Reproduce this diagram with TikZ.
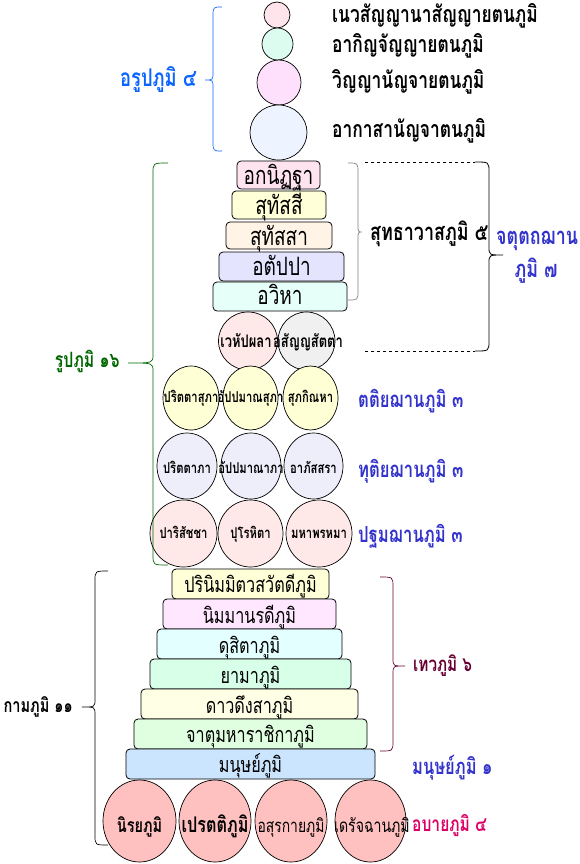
\documentclass[tikz,border=0pt]{standalone}
\usepackage{fontspec}
\usetikzlibrary{shapes.geometric}
\newfontfamily\thf[Script=Thai,FakeStretch=0.75]{Loma}
\definecolor{cblue}{HTML}{0A64FF}
\definecolor{cgreen}{HTML}{006600}
\definecolor{cviolet}{HTML}{3333CC}
\definecolor{cmaroon}{HTML}{660033}
\definecolor{ccrimson}{HTML}{DD0066}
\definecolor{fa1}{HTML}{FFE4EC}
\definecolor{fa2}{HTML}{DCFCF0}
\definecolor{fa3}{HTML}{FFE0FC}
\definecolor{fa4}{HTML}{EEF4FF}
\definecolor{fr1}{HTML}{FFE4F0}
\definecolor{fr2}{HTML}{FFFFD8}
\definecolor{fr3}{HTML}{FFF4E6}
\definecolor{fr4}{HTML}{E4E4FF}
\definecolor{fr5}{HTML}{E6FFF8}
\definecolor{fv1}{HTML}{FFE8E8}
\definecolor{fv2}{HTML}{F0F0F0}
\definecolor{fyel}{HTML}{FFFFD6}
\definecolor{flav}{HTML}{EEEEFA}
\definecolor{fpink}{HTML}{FFE8E8}
\definecolor{fhell}{HTML}{FFC0C0}
\newcommand\mybrace[7]{\draw[#1] (#2,#5) .. controls (#3,#5) .. (#3,#5+10) -- (#3,#6-8) .. controls (#3,#6) .. (#4,#6) .. controls (#3,#6) .. (#3,#6+8) -- (#3,#7-10) .. controls (#3,#7) .. (#2,#7);}
\tikzset{
  bt/.style={font=\thf\bfseries\fontsize{#1}{#1}\selectfont, inner sep=0pt},
  rt/.style={font=\thf\fontsize{#1}{#1}\selectfont, inner sep=0pt},
  rbox/.style={draw=black, line width=0.8pt, rounded corners=4pt, inner sep=0pt},
  ell/.style={draw=black, line width=0.7pt, ellipse, inner sep=0pt},
}
\begin{document}
\begin{tikzpicture}[x=1pt,y=-1pt]
\useasboundingbox (0,0) rectangle (579,864);
% ---------- Arupa ----------
\node[ell, fill=fa1, minimum width=26pt, minimum height=26pt] (a1) at (277,15) {};
\node[ell, fill=fa2, minimum width=31pt, minimum height=32pt] (a2) at (277.5,44) {};
\node[ell, fill=fa3, minimum width=44pt, minimum height=45pt] (a3) at (279,82.5) {};
\node[ell, fill=fa4, minimum width=57pt, minimum height=55pt] (a4) at (278.5,132.5) {};
\node[bt=23.2, anchor=base west] (a1t) at (332,23) {เนวสัญญานาสัญญายตนภูมิ};
\node[bt=23.2, anchor=base west] (a2t) at (332,53) {อากิญจัญญายตนภูมิ};
\node[bt=23.2, anchor=base west] (a3t) at (332,89) {วิญญานัญจายตนภูมิ};
\node[bt=23.2, anchor=base west] (a4t) at (332,137) {อากาสานัญจาตนภูมิ};
\mybrace{cblue, line width=0.7pt}{222}{213}{205}{7}{80}{151}
\node[bt=24.4, anchor=base east, text=cblue] (arupa) at (197,87) {อรูปภูมิ ๔};
% ---------- Suddhavasa ----------
\node[rbox, fill=fr1, minimum width=83pt, minimum height=28pt] (r1) at (278.5,175) {};
\node[rbox, fill=fr2, minimum width=94pt, minimum height=28pt] (r2) at (279,205) {};
\node[rbox, fill=fr3, minimum width=106pt, minimum height=27pt] (r3) at (279,235.5) {};
\node[rbox, fill=fr4, minimum width=125pt, minimum height=29pt] (r4) at (281.5,266.5) {};
\node[rbox, fill=fr5, minimum width=134pt, minimum height=29pt] (r5) at (280,296.5) {};
\node[rt=25.3, anchor=base] (r1t) at (278.5,184) {อกนิฏฐา};
\node[rt=25.3, anchor=base] (r2t) at (279,214) {สุทัสสี};
\node[rt=25.3, anchor=base] (r3t) at (279,245) {สุทัสสา};
\node[rt=25.3, anchor=base] (r4t) at (281.5,275) {อตัปปา};
\node[rt=25.3, anchor=base] (r5t) at (280,304) {อวิหา};
\node[ell, fill=fv1, minimum width=59pt, minimum height=58pt] (v1) at (248,341) {};
\node[ell, fill=fv2, minimum width=57pt, minimum height=58pt] (v2) at (306.5,341) {};
\node[bt=17.3, anchor=base] (v1t) at (246,347) {เวหัปผลา};
\node[bt=17.3, anchor=base] (v2t) at (308,347) {อสัญญสัตตา};
\mybrace{gray, line width=0.7pt}{348}{358}{362}{163}{232}{300}
\node[bt=23.9, anchor=base west] (sud) at (370,240) {สุทธาวาสภูมิ ๕};
\mybrace{black, line width=0.8pt}{475}{489}{503}{162}{255}{351}
\coordinate (dt) at (365,162);
\coordinate (dte) at (475,162);
\coordinate (db) at (365,351);
\coordinate (dbe) at (475,351);
\draw[dashed, line width=0.7pt] (dt) -- (dte);
\draw[dashed, line width=0.7pt] (db) -- (dbe);
\node[bt=23.8, anchor=base west, text=cviolet] (j1) at (496,244) {จตุตถฌาน};
\node[bt=23.8, anchor=base, text=cviolet] (j2) at (536,277) {ภูมิ ๗};
% ---------- Rupa rows ----------
\foreach \n/\x/\w/\t in {y1/191/56/ปริตตาสุภา, y2/250.5/55/อัปปมาณสุภา, y3/310.5/55/สุภกิณหา}{
  \node[ell, fill=fyel, minimum width=\w pt, minimum height=64pt] (\n) at (\x,398) {};
  \node[bt=15, anchor=base] (\n t) at (\x,402) {\t};
}
\foreach \n/\x/\w/\t in {l1/187/60/ปริตตาภา, l2/251/60/อัปปมาณาภา, l3/313.5/59/อาภัสสรา}{
  \node[ell, fill=flav, minimum width=\w pt, minimum height=66pt] (\n) at (\x,466) {};
  \node[bt=15, anchor=base] (\n t) at (\x,473) {\t};
}
\foreach \n/\x/\w/\t in {p1/183.5/67/ปาริสัชชา, p2/250.5/65/ปุโรหิตา, p3/319/66/มหาพรหมา}{
  \node[ell, fill=fpink, minimum width=\w pt, minimum height=67pt] (\n) at (\x,533.5) {};
  \node[bt=15, anchor=base] (\n t) at (\x,538) {\t};
}
\node[bt=22.2, anchor=base west, text=cviolet] (tt) at (358,407) {ตติยฌานภูมิ ๓};
\node[bt=22.2, anchor=base west, text=cviolet] (du) at (358,477) {ทุติยฌานภูมิ ๓};
\node[bt=22.2, anchor=base west, text=cviolet] (pa) at (358,542) {ปฐมฌานภูมิ ๓};
\mybrace{cgreen, line width=0.7pt}{168}{153}{128}{163}{363}{565}
\node[bt=21.1, anchor=base east, text=cgreen] (rupa) at (120,367) {รูปภูมิ ๑๖};
% ---------- Kama ----------
\foreach \n/\x/\y/\w/\c/\b/\t in {
  k1/250.5/584/157/FFFFD8/592/ปรินิมมิตวสวัตดีภูมิ,
  k2/249.5/614/173/FFE8FF/623/นิมมานรดีภูมิ,
  k3/249.5/644/185/E4FFFF/653/ดุสิตาภูมิ,
  k4/250.5/674/201/D8FFE8/683/ยามาภูมิ,
  k5/249.5/704/217/FFFFE6/713/ดาวดึงสาภูมิ,
  k6/250.5/734/233/E0FFE0/742/จาตุมหาราชิกาภูมิ,
  k7/250.5/764/249/CCE5FF/772/มนุษย์ภูมิ}{
  \definecolor{tmpc}{HTML}{\c}
  \node[rbox, fill=tmpc, minimum width=\w pt, minimum height=30pt] (\n) at (\x,\y) {};
  \node[rt=21.6, anchor=base] (\n t) at (\x,\b) {\t};
}
\foreach \n/\x/\w in {h1/139.5/73, h2/215/72, h3/291/72, h4/370.5/71}{
  \node[ell, fill=fhell, minimum width=\w pt, minimum height=82pt] (\n) at (\x,821) {};
}
\node[bt=19.3, anchor=base] (h1t) at (139.5,832) {นิรยภูมิ};
\node[bt=21.6, anchor=base] (h2t) at (215,832) {เปรตติภูมิ};
\node[rt=18.5, anchor=base] (h3t) at (291,832) {อสุรกายภูมิ};
\node[rt=18.8, anchor=base] (h4t) at (372,832) {เดรัจฉานภูมิ};
\mybrace{cmaroon, line width=0.7pt}{380}{393}{405}{577}{666}{751}
\node[bt=20.4, anchor=base west, text=cmaroon] (tev) at (413,671) {เทวภูมิ ๖};
\node[bt=22, anchor=base west, text=cviolet] (man) at (412,774) {มนุษย์ภูมิ ๑};
\node[bt=20.8, anchor=base west, text=ccrimson] (aba) at (412,831) {อบายภูมิ ๔};
\mybrace{black, line width=0.7pt}{108}{95}{82}{571}{707}{845}
\node[bt=19.4, anchor=base east] (kama) at (73,712) {กามภูมิ ๑๑};
\end{tikzpicture}
\end{document}
